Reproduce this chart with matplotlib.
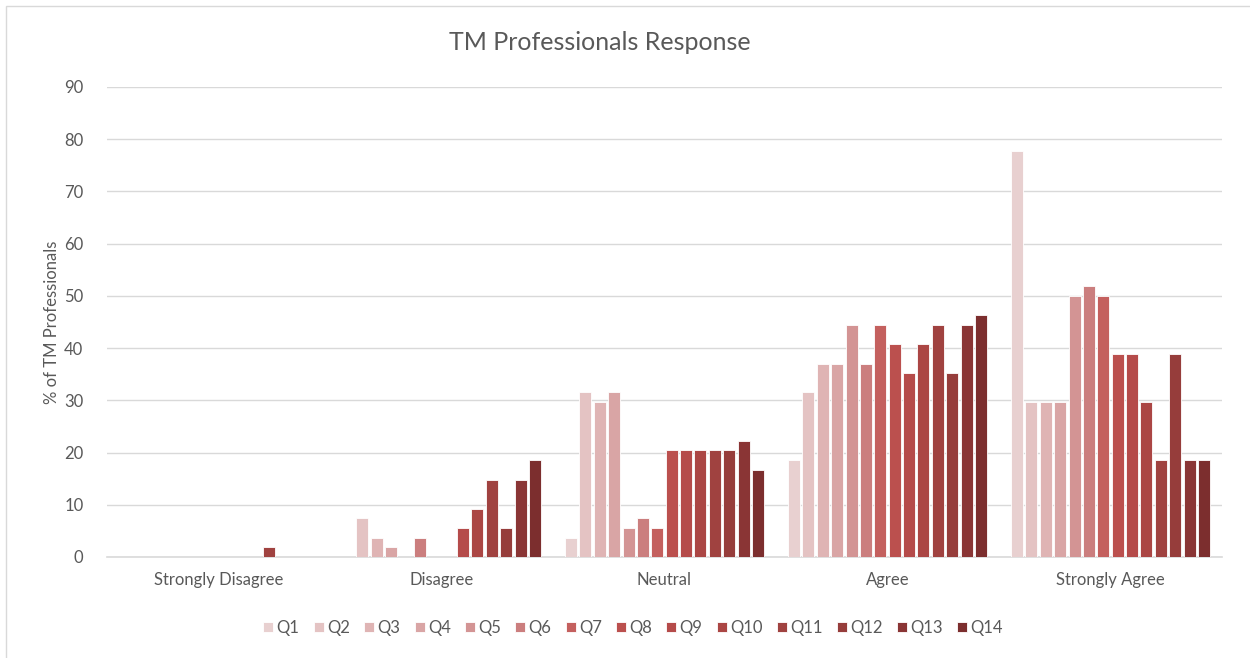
import numpy as np
import matplotlib.pyplot as plt
from matplotlib.patches import Rectangle

plt.rcParams['font.family'] = ['Lato', 'DejaVu Sans']

categories = ['Strongly Disagree', 'Disagree', 'Neutral', 'Agree', 'Strongly Agree']
questions = ['Q%d' % i for i in range(1, 15)]

# % of TM professionals per question, one list per response category
strongly_disagree = [0, 0, 0, 0, 0, 0, 0, 0, 0, 0, 1.85, 0, 0, 0]
disagree = [0, 7.41, 3.7, 1.85, 0, 3.7, 0, 0, 5.56, 9.26, 14.8, 5.56, 14.8, 18.5]
neutral = [3.7, 31.5, 29.6, 31.5, 5.56, 7.41, 5.56, 20.4, 20.4, 20.4, 20.4, 20.4, 22.2, 16.7]
agree = [18.5, 31.5, 37.0, 37.0, 44.4, 37.0, 44.4, 40.7, 35.2, 40.7, 44.4, 35.2, 44.4, 46.3]
strongly_agree = [77.8, 29.6, 29.6, 29.6, 50.0, 51.9, 50.0, 38.9, 38.9, 29.6, 18.5, 38.9, 18.5, 18.5]

colors = ['#E8D0D0', '#E4C3C3', '#DFB4B4', '#D9A5A5', '#D39494', '#CB7E7E', '#C4605E',
          '#BB504E', '#B54B4A', '#AB4644', '#A04240', '#963D3B', '#8A3535', '#7C2E2E']

data = np.array([strongly_disagree, disagree, neutral, agree, strongly_agree])

fig = plt.figure(figsize=(12.5, 6.58), dpi=100)
ax = fig.add_axes([0.0856, 0.1535, 0.892, 0.7143])

x = np.arange(len(categories))
step = 0.0645
width = 0.054
for i, q in enumerate(questions):
    offs = (i - 6.5) * step
    ax.bar(x + offs, data[:, i], width, color=colors[i], label=q,
           edgecolor='white', linewidth=0.6, zorder=3)

ax.set_xlim(-0.5, 4.5)
ax.set_ylim(0, 90)
ax.set_yticks(np.arange(0, 91, 10))
ax.set_xticks(x)
ax.set_xticklabels(categories)
ax.grid(axis='y', color='#D9D9D9', linewidth=1, zorder=0)
for s in ['top', 'right', 'left']:
    ax.spines[s].set_visible(False)
ax.spines['bottom'].set_color('#D9D9D9')
ax.spines['bottom'].set_linewidth(1.2)
ax.tick_params(axis='both', length=0, labelsize=12, colors='#595959')
ax.tick_params(axis='x', pad=11)
ax.tick_params(axis='y', pad=17)
ax.set_ylabel('% of TM Professionals', fontsize=12, color='#595959', va='center')
ax.yaxis.set_label_coords(-0.049, 0.5)
fig.text(600 / 1250, 1 - 42 / 658, 'TM Professionals Response', fontsize=18,
         color='#595959', ha='center', va='center')

fig.legend(loc='center', bbox_to_anchor=(633 / 1250, 1 - 628 / 658), ncol=14, frameon=False,
           fontsize=12, labelcolor='#595959', handlelength=0.6, handleheight=0.6,
           handletextpad=0.2, columnspacing=0.85)

fig.patches.append(Rectangle((6 / 1250, -0.01), 1.0, 1 - 6 / 658 + 0.01,
                             transform=fig.transFigure, fill=False,
                             edgecolor='#D9D9D9', linewidth=1))

fig.savefig('out.png', dpi=100)
